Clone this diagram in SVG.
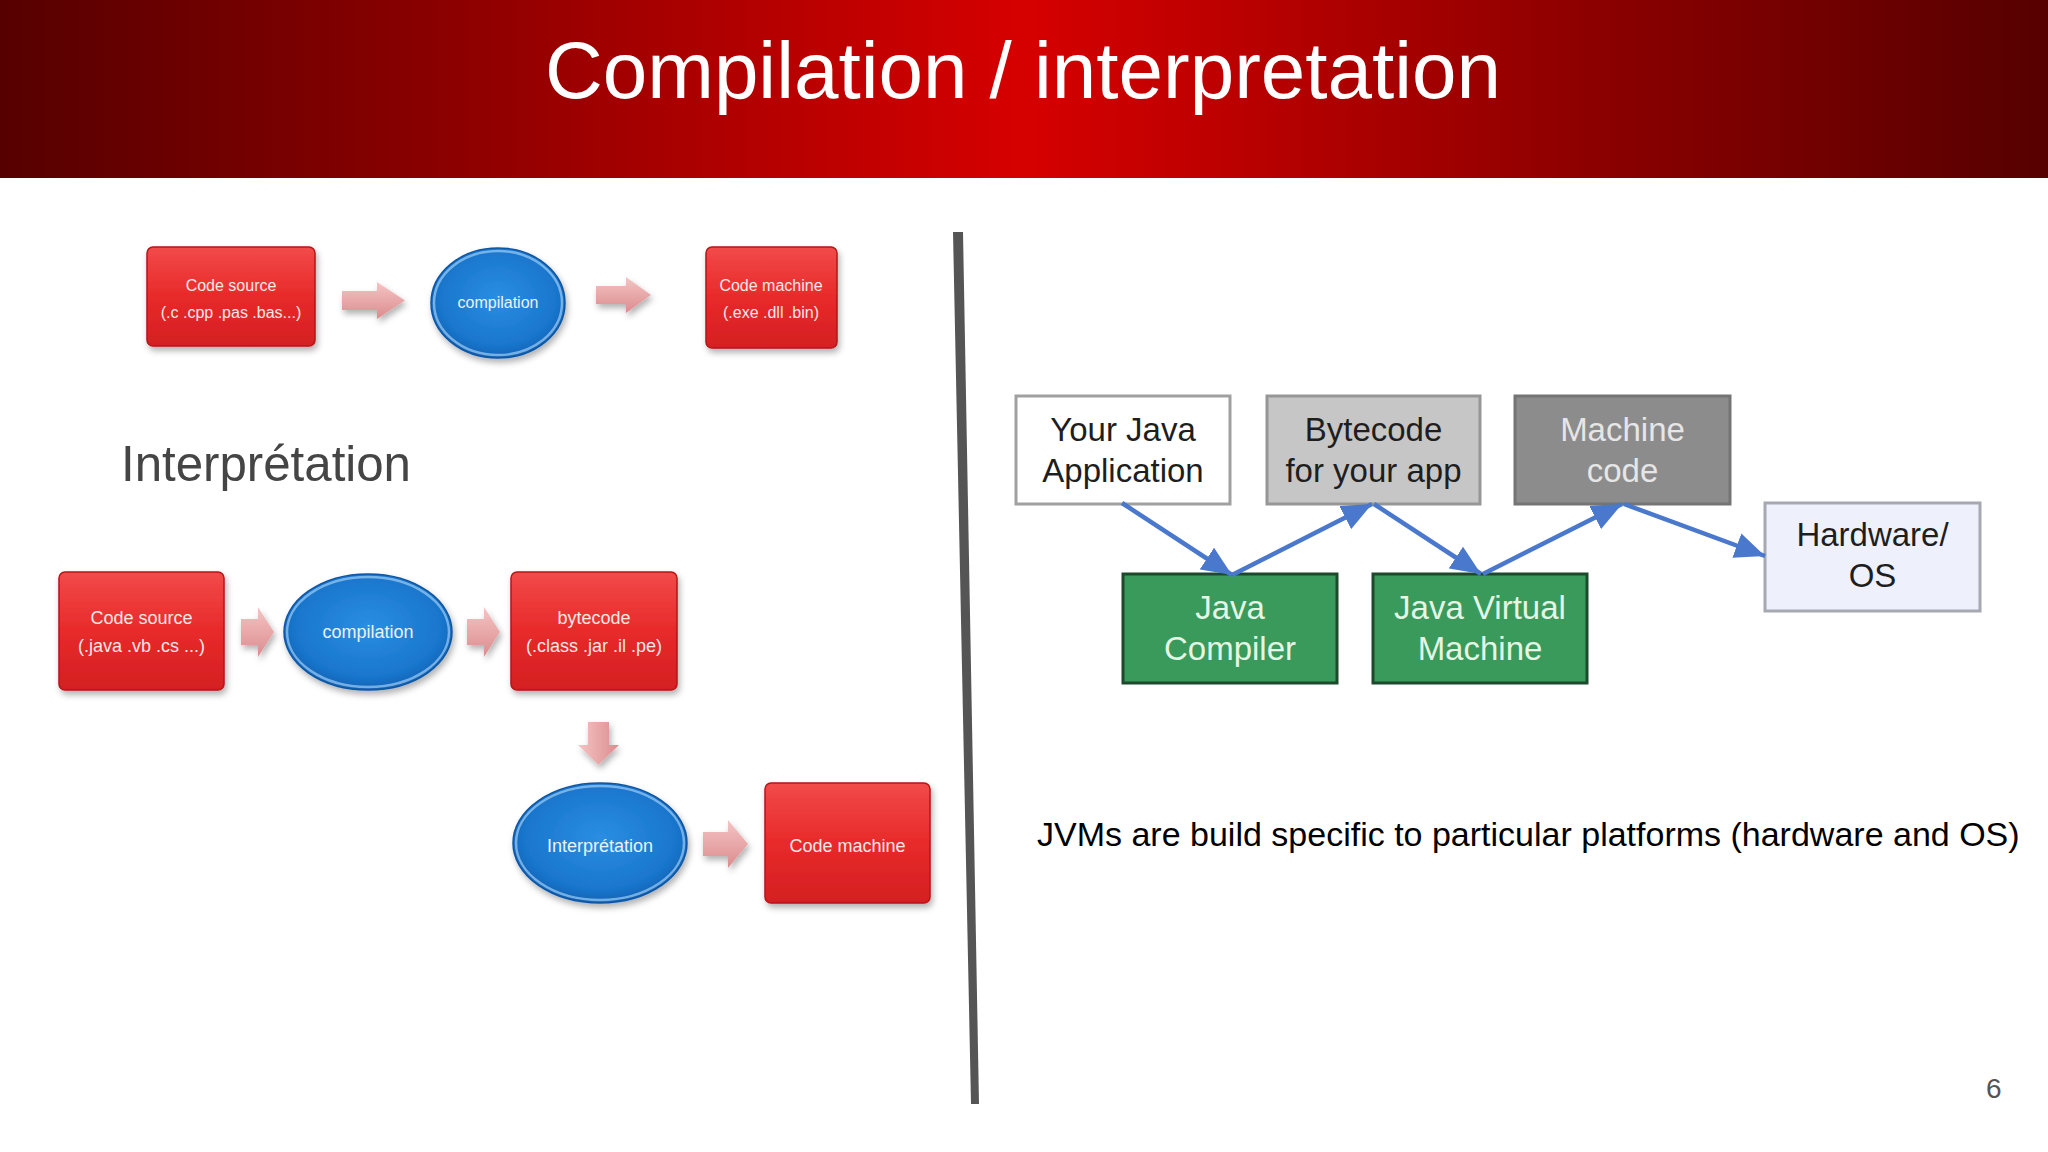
<svg xmlns="http://www.w3.org/2000/svg" width="2048" height="1152" viewBox="0 0 2048 1152">
<defs>
<linearGradient id="hdr" x1="0" y1="0" x2="1" y2="0">
<stop offset="0" stop-color="#560000"/>
<stop offset="0.22" stop-color="#8c0000"/>
<stop offset="0.5" stop-color="#d60000"/>
<stop offset="0.78" stop-color="#8c0000"/>
<stop offset="1" stop-color="#560000"/>
</linearGradient>
<linearGradient id="redbox" x1="0" y1="0" x2="0" y2="1">
<stop offset="0" stop-color="#f24a4a"/>
<stop offset="0.5" stop-color="#e82a2a"/>
<stop offset="1" stop-color="#d41f22"/>
</linearGradient>
<linearGradient id="pink" x1="0" y1="0" x2="0" y2="1">
<stop offset="0" stop-color="#f5c4c4"/>
<stop offset="1" stop-color="#db8c8e"/>
</linearGradient>
<linearGradient id="pinkv" x1="0" y1="0" x2="1" y2="0">
<stop offset="0" stop-color="#f5c4c4"/>
<stop offset="1" stop-color="#db8c8e"/>
</linearGradient>
<radialGradient id="blue" cx="0.5" cy="0.45" r="0.55">
<stop offset="0" stop-color="#2a8ee2"/>
<stop offset="0.8" stop-color="#1976cc"/>
<stop offset="1" stop-color="#1262b4"/>
</radialGradient>
<filter id="sh" x="-20%" y="-20%" width="140%" height="150%">
<feDropShadow dx="2" dy="4" stdDeviation="3" flood-color="#000" flood-opacity="0.3"/>
</filter>
<marker id="ah" markerUnits="userSpaceOnUse" markerWidth="30" markerHeight="26" viewBox="0 0 30 26" refX="30" refY="13" orient="auto">
<path d="M0,0 L30,13 L0,26 Z" fill="#4a78cc"/>
</marker>
<style>
.rbox{fill:url(#redbox);stroke:#b81418;stroke-width:1.5;filter:url(#sh)}
.ell{fill:url(#blue);stroke:#0e56a4;stroke-width:1.5;filter:url(#sh)}
.hl{fill:none;stroke:#9ccdf6;stroke-width:2.5;opacity:0.7}
.parr{fill:url(#pink);filter:url(#sh)}
.wt{font-family:"Liberation Sans",Arial,sans-serif;fill:#fde8e8;text-anchor:middle}
.bt{font-family:"Liberation Sans",Arial,sans-serif;fill:#e8f2fc;text-anchor:middle}
.jt{font-family:"Liberation Sans",Arial,sans-serif;font-size:33px;text-anchor:middle;fill:#1e1e1e}
.gbox{fill:#399a5b;stroke:#1d4a2c;stroke-width:3}
.gt{fill:#e4f6e4}
.conn{stroke:#4a78cc;stroke-width:4.5;fill:none;marker-end:url(#ah)}
</style>
</defs>
<rect width="2048" height="1152" fill="#ffffff"/>
<g id="header">
<rect x="0" y="0" width="2048" height="178" fill="url(#hdr)"/>
<text x="1023" y="98" font-family="Liberation Sans, Arial, sans-serif" font-size="80" fill="#ffffff" text-anchor="middle">Compilation / interpretation</text>
</g>
<polygon id="divider" points="953,232 963,232 979,1104 971,1104" fill="#555555"/>

<g id="compil-source">
<rect class="rbox" x="147" y="247" width="168" height="99" rx="6"/>
<text class="wt" x="231" y="291" font-size="16">Code source</text>
<text class="wt" x="231" y="318" font-size="16">(.c .cpp .pas  .bas...)</text>
</g>
<g id="compil-compilation">
<ellipse class="ell" cx="498" cy="303" rx="67" ry="55"/>
<ellipse class="hl" cx="498" cy="303" rx="64" ry="52"/>
<text class="bt" x="498" y="308" font-size="16">compilation</text>
</g>
<g id="compil-machine">
<rect class="rbox" x="706" y="247" width="131" height="101" rx="6"/>
<text class="wt" x="771" y="291" font-size="16">Code machine</text>
<text class="wt" x="771" y="318" font-size="16">(.exe .dll .bin)</text>
</g>

<text id="interp-title" x="121" y="481" font-family="Liberation Sans, Arial, sans-serif" font-size="50" fill="#454545" textLength="290" lengthAdjust="spacingAndGlyphs">Interprétation</text>

<g id="interp-source">
<rect class="rbox" x="59" y="572" width="165" height="118" rx="6"/>
<text class="wt" x="141.5" y="624" font-size="18">Code source</text>
<text class="wt" x="141.5" y="652" font-size="18">(.java .vb .cs ...)</text>
</g>
<g id="interp-compilation">
<ellipse class="ell" cx="368" cy="632" rx="84" ry="58"/>
<ellipse class="hl" cx="368" cy="632" rx="81" ry="55"/>
<text class="bt" x="368" y="638" font-size="18">compilation</text>
</g>
<g id="interp-bytecode">
<rect class="rbox" x="511" y="572" width="166" height="118" rx="6"/>
<text class="wt" x="594" y="624" font-size="18">bytecode</text>
<text class="wt" x="594" y="652" font-size="18">(.class .jar .il .pe)</text>
</g>
<g id="interp-interpretation">
<ellipse class="ell" cx="600" cy="843" rx="87" ry="60"/>
<ellipse class="hl" cx="600" cy="843" rx="84" ry="57"/>
<text class="bt" x="600" y="852" font-size="18">Interprétation</text>
</g>
<g id="interp-machine">
<rect class="rbox" x="765" y="783" width="165" height="120" rx="6"/>
<text class="wt" x="847.5" y="852" font-size="18">Code machine</text>
</g>

<g id="jvm-app">
<rect x="1016" y="396" width="214" height="108" fill="#ffffff" stroke="#a0a0a0" stroke-width="3"/>
<text class="jt" x="1123" y="441">Your Java</text>
<text class="jt" x="1123" y="482">Application</text>
</g>
<g id="jvm-bytecode">
<rect x="1267" y="396" width="213" height="108" fill="#c6c6c6" stroke="#969696" stroke-width="3"/>
<text class="jt" x="1373.5" y="441">Bytecode</text>
<text class="jt" x="1373.5" y="482">for your app</text>
</g>
<g id="jvm-machinecode">
<rect x="1515" y="396" width="215" height="108" fill="#8c8c8c" stroke="#747474" stroke-width="3"/>
<text class="jt" x="1622.5" y="441" style="fill:#e6e6e6">Machine</text>
<text class="jt" x="1622.5" y="482" style="fill:#e6e6e6">code</text>
</g>
<g id="jvm-hardware">
<rect x="1765" y="503" width="215" height="108" fill="#eef1fb" stroke="#a6a8b2" stroke-width="3"/>
<text class="jt" x="1872.5" y="546">Hardware/</text>
<text class="jt" x="1872.5" y="587">OS</text>
</g>
<g id="jvm-compiler">
<rect class="gbox" x="1123" y="574" width="214" height="109"/>
<text class="jt gt" x="1230" y="619">Java</text>
<text class="jt gt" x="1230" y="660">Compiler</text>
</g>
<g id="jvm-vm">
<rect class="gbox" x="1373" y="574" width="214" height="109"/>
<text class="jt gt" x="1480" y="619">Java Virtual</text>
<text class="jt gt" x="1480" y="660">Machine</text>
</g>

<g id="connectors">
<path class="parr" d="M342,291 H377 V282 L405,300.5 L377,319 V310 H342 Z"/>
<path class="parr" d="M596,286 H626 V277 L651,295 L626,313 V304 H596 Z"/>
<path class="parr" d="M241,619 H258 V607 L274,632 L258,657 V645 H241 Z"/>
<path class="parr" d="M467,619 H484 V607 L500,632 L484,657 V645 H467 Z"/>
<path class="parr" d="M588,722 H609 V745 H619 L598.5,765 L578,745 H588 Z" style="fill:url(#pinkv)"/>
<path class="parr" d="M703,832 H728 V820 L748,844 L728,868 V856 H703 Z"/>
<line class="conn" x1="1122" y1="503" x2="1232" y2="575"/>
<line class="conn" x1="1232" y1="575" x2="1372" y2="504"/>
<line class="conn" x1="1374" y1="504" x2="1481" y2="574"/>
<line class="conn" x1="1483" y1="574" x2="1622" y2="504"/>
<line class="conn" x1="1624" y1="504" x2="1765" y2="556"/>
</g>

<text id="note" x="1037" y="846" font-family="Liberation Sans, Arial, sans-serif" font-size="34" fill="#000000">JVMs are build specific to particular platforms (hardware and OS)</text>
<text id="page" x="1986" y="1098" font-family="Liberation Sans, Arial, sans-serif" font-size="28" fill="#555555">6</text>
</svg>
